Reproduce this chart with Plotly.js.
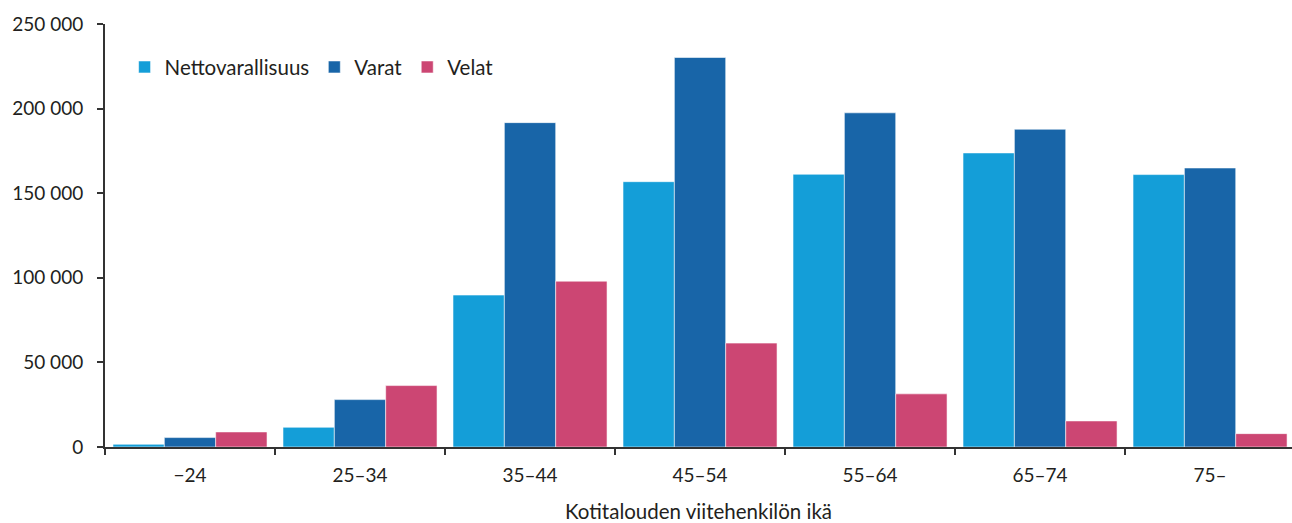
<!DOCTYPE html>
<html>
<head>
<meta charset="utf-8">
<script src="https://cdn.plot.ly/plotly-3.0.1.min.js"></script>
<style>html,body{margin:0;padding:0;background:#fff;}#chart{width:1292px;height:523px;}</style>
</head>
<body>
<div id="chart"></div>
<script>
const categories = ["\u221224", "25\u201334", "35\u201344", "45\u201354", "55\u201364", "65\u201374", "75\u2013"];
const nettovarallisuus = [1600, 11650, 89800, 156800, 161200, 173800, 161000];
const varat = [5560, 28000, 191700, 230200, 197500, 187800, 164900];
const velat = [8900, 36300, 98000, 61400, 31400, 15400, 7900];
const seriesNames = ["Nettovarallisuus", "Varat", "Velat"];
const yTicks = [0, 50000, 100000, 150000, 200000, 250000];
const yTickText = ["0", "50 000", "100 000", "150 000", "200 000", "250 000"];
const xTitle = "Kotitalouden viitehenkilön ikä";

const colors = ["#149ed8", "#1865a8", "#cc4673"];
const FONT = "Lato, 'Open Sans', sans-serif";
const values = [nettovarallisuus, varat, velat];

const traces = values.map((v, i) => ({
  type: "bar",
  name: seriesNames[i],
  x: categories,
  y: v,
  marker: { color: colors[i], line: { color: "rgba(255,255,255,0.55)", width: 1 } },
  hoverinfo: "x+y+name"
}));

const layout = {
  width: 1292,
  height: 523,
  margin: { l: 105, r: 0, t: 24, b: 76 },
  paper_bgcolor: "#ffffff",
  plot_bgcolor: "#ffffff",
  font: { family: FONT, size: 19, color: "#231f20" },
  barmode: "group",
  bargap: 0.094,
  bargroupgap: 0,
  showlegend: true,
  legend: {
    orientation: "h",
    x: 0.0165, y: 0.898,
    xanchor: "left", yanchor: "middle",
    bgcolor: "rgba(0,0,0,0)",
    font: { family: FONT, size: 20.5, color: "#231f20" },
    traceorder: "normal",
    itemwidth: 30
  },
  xaxis: {
    type: "category",
    range: [-0.5, 6.482],
    showgrid: false,
    zeroline: false,
    showline: true,
    linecolor: "#333333",
    linewidth: 2,
    ticks: "outside",
    tickson: "boundaries",
    ticklen: 6,
    tickwidth: 2,
    tickcolor: "#333333",
    ticklabelstandoff: 10,
    tickfont: { family: FONT, size: 19, color: "#231f20" },
    title: { text: xTitle, font: { family: FONT, size: 20.5, color: "#231f20" }, standoff: 20 },
    fixedrange: true
  },
  yaxis: {
    range: [0, 250000],
    tickvals: yTicks,
    ticktext: yTickText,
    showgrid: false,
    zeroline: false,
    showline: true,
    linecolor: "#333333",
    linewidth: 2,
    ticks: "outside",
    ticklen: 6,
    tickwidth: 2,
    tickcolor: "#333333",
    ticklabelstandoff: 10,
    tickfont: { family: FONT, size: 19, color: "#231f20" },
    fixedrange: true
  }
};

Plotly.newPlot("chart", traces, layout, { displayModeBar: false, staticPlot: true });
</script>
</body>
</html>
